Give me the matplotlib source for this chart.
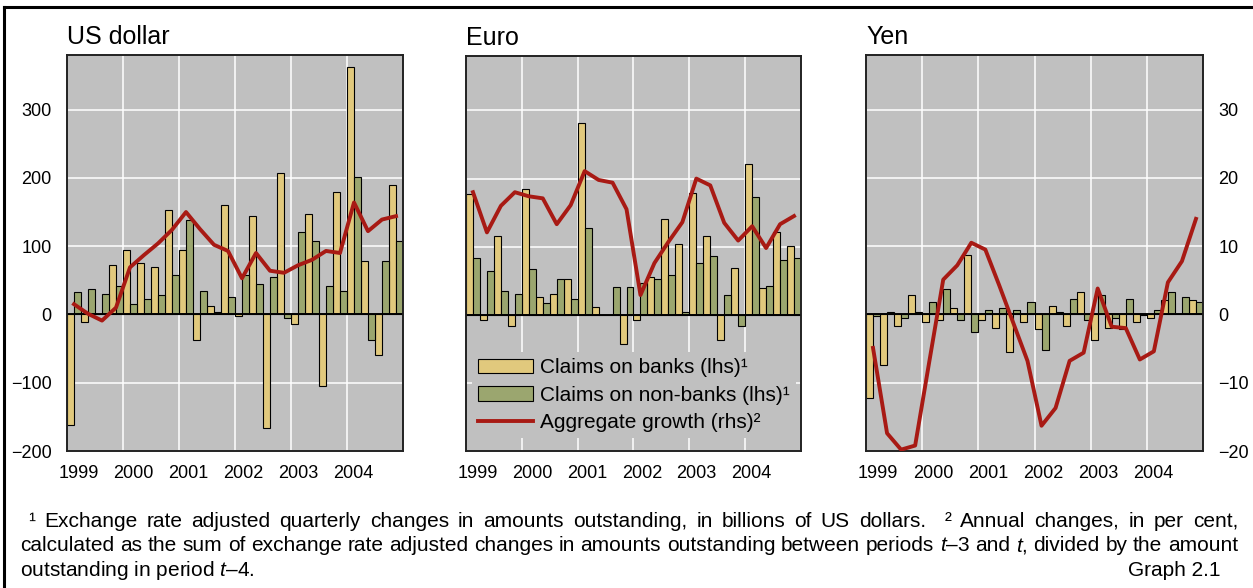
import matplotlib
matplotlib.use('Agg')
import matplotlib.pyplot as plt
import numpy as np
from matplotlib.lines import Line2D
from matplotlib.patches import Patch

# quarterly data, 1999 Q1 - 2004 Q4
years = ['1999', '2000', '2001', '2002', '2003', '2004']
titles = ['US dollar', 'Euro', 'Yen']

usd_banks = [-162, -11, 0, 72, 95, 75, 69, 153, 95, -37, 12, 161,
             -2, 144, -167, 207, -14, 147, -105, 179, 362, 78, -60, 190]
usd_nonbanks = [33, 38, 30, 41, 15, 23, 29, 58, 139, 35, 4, 26,
                58, 44, 55, -5, 121, 107, 41, 35, 201, -37, 78, 107]
usd_growth = [1.5, 0.1, -0.9, 1.0, 6.9, 8.7, 10.4, 12.4, 15.0, 12.5, 10.2, 9.3,
              5.3, 9.0, 6.4, 6.1, 7.2, 8.0, 9.3, 9.0, 16.4, 12.2, 13.9, 14.4]

eur_banks = [177, -8, 116, -17, 184, 26, 30, 52, 282, 12, 0, -43,
             -8, 55, 141, 104, 179, 116, -37, 69, 222, 40, 121, 101]
eur_nonbanks = [84, 64, 35, 30, 67, 18, 52, 23, 127, 0, 41, 41,
                46, 52, 58, 4, 76, 87, 29, -17, 173, 43, 81, 84]
eur_growth = [18.0, 12.1, 16.0, 18.0, 17.4, 17.1, 13.3, 16.1, 21.1, 19.8, 19.4, 15.5,
              2.9, 7.6, 10.7, 13.6, 20.0, 19.0, 13.5, 10.9, 13.0, 9.8, 13.3, 14.5]

jpy_banks = [-123, -74, -17, 29, -11, -8, 10, 87, -8, -20, -55, -11,
             -22, 12, -17, 33, -37, -20, -22, -11, -5, 21, 0, 21]
jpy_nonbanks = [-2, 4, -5, 4, 18, 38, -8, -25, 7, 10, 7, 18,
                -52, 4, 23, -8, 29, -5, 23, -1, 6, 33, 26, 18]
jpy_growth = [-4.9, -17.4, -19.8, -19.2, -7.0, 5.1, 7.2, 10.5, 9.5, 4.2, -1.3, -6.8,
              -16.3, -13.7, -6.8, -5.6, 3.8, -1.8, -2.0, -6.6, -5.4, 4.7, 7.8, 14.0]

legend_labels = ['Claims on banks (lhs)¹', 'Claims on non-banks (lhs)¹', 'Aggregate growth (rhs)²']

note1 = '¹ Exchange rate adjusted quarterly changes in amounts outstanding, in billions of US dollars.  ² Annual changes, in per cent,'
note2 = 'calculated as the sum of exchange rate adjusted changes in amounts outstanding between periods $t$–3 and $t$, divided by the amount'
note3 = 'outstanding in period $t$–4.'
graph_no = 'Graph 2.1'

plt.rcParams['font.family'] = ['Liberation Sans', 'DejaVu Sans']
plt.rcParams['mathtext.fontset'] = 'custom'
plt.rcParams['mathtext.it'] = 'Liberation Sans:italic'
plt.rcParams['mathtext.rm'] = 'Liberation Sans'

W, H = 1253, 588
fig = plt.figure(figsize=(W / 100, H / 100), dpi=100)

bank_col = '#E1C97D'
nonbank_col = '#9BA66F'
line_col = '#A81A14'
bg = '#C0C0C0'

panels = [(titles[0], usd_banks, usd_nonbanks, usd_growth, 67, 403, 55),
          (titles[1], eur_banks, eur_nonbanks, eur_growth, 466, 801, 56),
          (titles[2], jpy_banks, jpy_nonbanks, jpy_growth, 866, 1203, 55)]

q = np.arange(24)
bottom = 451
for i, (title, banks, nonbanks, growth, x0, x1, top) in enumerate(panels):
    ax = fig.add_axes([x0 / W, (H - bottom) / H, (x1 - x0) / W, (bottom - top) / H])
    ax.set_facecolor(bg)
    ax.bar(q + 0.25, banks, width=0.5, color=bank_col, edgecolor='black', linewidth=0.8, zorder=2)
    ax.bar(q + 0.75, nonbanks, width=0.5, color=nonbank_col, edgecolor='black', linewidth=0.8, zorder=2)
    ax.axhline(0, color='black', lw=1.4, zorder=3)
    ax.set_xlim(0, 24)
    ax.set_ylim(-200, 380)
    ax.set_yticks(np.arange(-200, 301, 100))
    ax.set_xticks(np.arange(4, 24, 4))
    ax.set_xticklabels([])
    ax.set_xticks(np.arange(6) * 3.92 + 0.85, minor=True)
    ax.set_xticklabels(years, minor=True)
    ax.tick_params(which='both', length=0)
    ax.tick_params(axis='x', which='minor', pad=10, labelsize=13)
    ax.tick_params(axis='y', labelleft=(i == 0), pad=11, labelsize=13)
    ax.grid(which='major', color='white', lw=1.1)
    ax.set_axisbelow(True)
    ax.set_title(title, loc='left', fontsize=18, pad=8)

    ax2 = ax.twinx()
    ax2.plot(q + 0.5, growth, color=line_col, lw=2.8, zorder=4)
    ax2.set_ylim(-20, 38)
    ax2.set_yticks(np.arange(-20, 31, 10))
    ax2.tick_params(axis='y', length=0, labelright=(i == 2), pad=11, labelsize=13)
    for a in (ax, ax2):
        for s in a.spines.values():
            s.set_color('#222222')
            s.set_linewidth(1.2)

    if i == 1:
        handles = [Patch(facecolor=bank_col, edgecolor='black', lw=0.8, label=legend_labels[0]),
                   Patch(facecolor=nonbank_col, edgecolor='black', lw=0.8, label=legend_labels[1]),
                   Line2D([], [], color=line_col, lw=2.8, label=legend_labels[2])]
        ax2.legend(handles=handles, loc='lower left', bbox_to_anchor=(0.018, 0.032),
                   fontsize=15, frameon=True, facecolor=bg, edgecolor='none', framealpha=1,
                   fancybox=False, handlelength=2.65, handleheight=0.7, handletextpad=0.3,
                   labelspacing=0.4, borderpad=0.3, borderaxespad=0)

# frame lines of the box
fig.add_artist(Line2D([4 / W, 1], [1 - 7 / H, 1 - 7 / H], color='black', lw=2.2, transform=fig.transFigure))
fig.add_artist(Line2D([4 / W, 4 / W], [0, 1 - 7 / H], color='black', lw=2.2, transform=fig.transFigure))


def justify(text, x0, x1, y):
    words = text.split(' ')
    items = [fig.text(0, 1 - y / H, w, fontsize=15, va='baseline') for w in words]
    r = fig.canvas.get_renderer()
    widths = [t.get_window_extent(r).width for t in items]
    gap = (x1 - x0 - sum(widths)) / (len(words) - 1)
    x = x0
    for t, w in zip(items, widths):
        t.set_x(x / W)
        x += w + gap


justify(note1, 28, 1238, 527)
justify(note2, 20, 1238, 551)
fig.text(20 / W, 1 - 576 / H, note3, fontsize=15, va='baseline')
fig.text(1220 / W, 1 - 576 / H, graph_no, fontsize=15, va='baseline', ha='right')

fig.savefig('out.png', dpi=100)
